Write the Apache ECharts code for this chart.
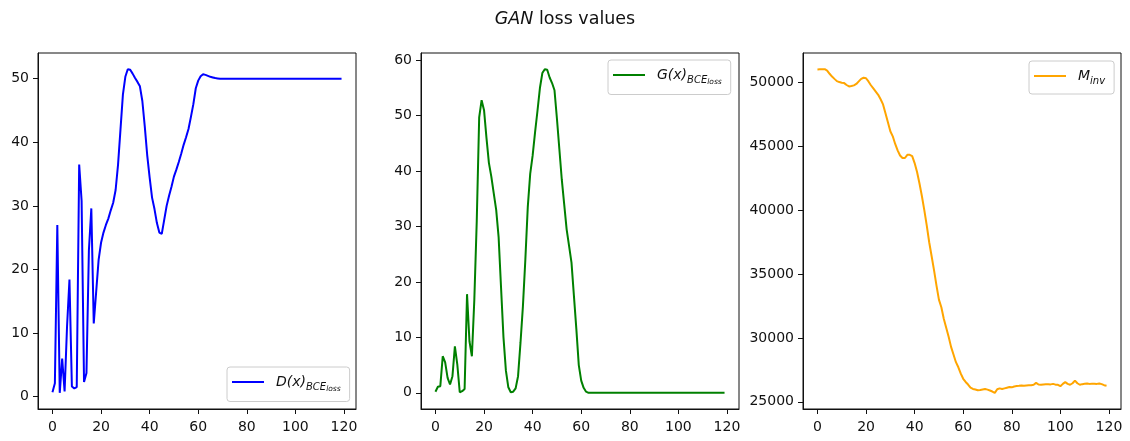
<!DOCTYPE html>
<html><head><meta charset="utf-8">
<script src="https://cdn.jsdelivr.net/npm/echarts@6/dist/echarts.min.js"></script>
<style>html,body{margin:0;padding:0;background:#fff}#c{width:1130px;height:441px}</style>
</head><body><div id="c"></div>
<script>
// ---- data ----
const dLoss = [0.7,2.1,27.0,0.6,6.0,0.8,11.0,18.4,1.6,1.3,1.5,36.5,30.8,2.3,3.7,23.0,29.6,11.5,16.5,21.5,
  24.2,25.8,27.0,28.0,29.3,30.5,32.5,36.5,42.0,47.5,50.3,51.5,51.4,50.8,50.1,49.5,48.8,46.5,42.5,38.0,
  34.5,31.3,29.5,27.3,25.8,25.6,27.8,30.0,31.6,33.0,34.6,35.7,36.9,38.2,39.6,40.8,42.1,44.0,46.0,48.5,
  49.7,50.4,50.7,50.6,50.45,50.3,50.2,50.1,50.05,50.0,50,50,50,50,50,50,50,50,50,50,
  50,50,50,50,50,50,50,50,50,50,50,50,50,50,50,50,50,50,50,50,
  50,50,50,50,50,50,50,50,50,50,50,50,50,50,50,50,50,50,50,50];
const gLoss = [0.2,1.1,1.2,6.6,5.5,2.7,1.5,3.0,8.4,5.1,0.1,0.3,0.7,17.8,9.3,6.6,16.8,31.0,49.7,52.8,
  51.0,46.0,41.5,39.0,36.0,33.0,28.1,19.0,10.0,4.0,1.0,0.1,0.2,0.8,3.0,9.0,15.6,24.0,33.5,39.5,
  42.8,47.0,50.9,55.0,57.7,58.4,58.3,56.9,55.9,54.6,49.5,44.0,38.5,34.0,29.5,26.5,23.5,17.5,11.5,5.0,
  2.2,0.9,0.2,0,0,0,0,0,0,0,0,0,0,0,0,0,0,0,0,0,
  0,0,0,0,0,0,0,0,0,0,0,0,0,0,0,0,0,0,0,0,
  0,0,0,0,0,0,0,0,0,0,0,0,0,0,0,0,0,0,0,0];
const mInv = [51040,51050,51050,51060,50950,50700,50480,50300,50125,50050,50000,49970,49820,49710,49740,49790,49900,50100,50300,50390,
  50350,50100,49800,49550,49300,49050,48700,48300,47600,46900,46200,45800,45200,44700,44300,44100,44100,44350,44350,44250,
  43700,43000,42100,41100,40000,38800,37500,36400,35300,34100,33000,32400,31500,30800,30100,29300,28700,28100,27700,27200,
  26800,26550,26350,26100,26000,25960,25900,25920,25960,26000,25950,25880,25800,25700,25980,26050,26000,26050,26100,26150,
  26130,26200,26230,26250,26280,26260,26280,26300,26290,26330,26480,26350,26330,26360,26370,26380,26360,26400,26340,26330,
  26220,26400,26540,26400,26330,26450,26660,26450,26330,26380,26410,26430,26400,26420,26410,26400,26430,26380,26300,26260];
const xTicks = [0,20,40,60,80,100,120];
const dTicks = [0,10,20,30,40,50];
const gTicks = [0,10,20,30,40,50,60];
const mTicks = [25000,30000,35000,40000,45000,50000];
const titleParts = ['GAN', ' loss values'];

// ---- helpers ----
function pts(arr){ return arr.map((v,i)=>[i,v]); }
function range(arr){ const lo=Math.min(...arr), hi=Math.max(...arr), m=(hi-lo)*0.05; return [lo-m, hi+m]; }
const FONT = 'DejaVu Sans';
const INK = '#111';
const xr = [-0.05*(dLoss.length-1), (dLoss.length-1)*1.05];
const fmt = v => String(v);
const LBL = {formatter:fmt, fontSize:14, color:INK, fontFamily:FONT};

function xAxis(g){
  return {type:'value', gridIndex:g, min:xr[0], max:xr[1],
    axisLine:{show:true, onZero:false, lineStyle:{color:INK, width:1}},
    axisTick:{show:true, inside:false, customValues:xTicks, length:5, lineStyle:{color:INK, width:1}},
    axisLabel:Object.assign({customValues:xTicks, margin:11}, LBL),
    splitLine:{show:false}};
}
function yAxis(g, arr, ticks){
  const r = range(arr);
  return {type:'value', gridIndex:g, min:r[0], max:r[1],
    axisLine:{show:true, onZero:false, lineStyle:{color:INK, width:1}},
    axisTick:{show:true, inside:false, customValues:ticks, length:5, lineStyle:{color:INK, width:1}},
    axisLabel:Object.assign({customValues:ticks, margin:9}, LBL),
    splitLine:{show:false}};
}
const gridBase = {top:53, height:356, width:318, show:true, borderColor:INK, borderWidth:1, containLabel:false};
const rich = {
  m:{fontFamily:FONT, fontStyle:'italic', fontSize:14, color:INK, padding:[0,0,0,7]},
  s:{fontFamily:FONT, fontStyle:'italic', fontSize:10, color:INK, padding:[10,0,0,0]},
  ss:{fontFamily:FONT, fontStyle:'italic', fontSize:7.5, color:INK, padding:[15,0,0,0]}
};
function legend(name, pos, text){
  return Object.assign({data:[{name:name, icon:'rect'}], orient:'vertical', itemWidth:32, itemHeight:2,
    padding:[8,9,8,5], backgroundColor:'rgba(255,255,255,0.8)', borderColor:'#cccccc', borderWidth:1, borderRadius:3,
    textStyle:{rich:rich}, formatter:()=>text, selectedMode:false}, pos);
}
function line(name, g, arr, color){
  return {name:name, type:'line', xAxisIndex:g, yAxisIndex:g, data:pts(arr), showSymbol:false, symbol:'none',
    lineStyle:{color:color, width:2}, itemStyle:{color:color}, smooth:false};
}

const chart = echarts.init(document.getElementById('c'), null, {renderer:'canvas'});
chart.setOption({
  animation:false,
  backgroundColor:'#fff',
  title:{text:'{i|'+titleParts[0]+'}'+titleParts[1], left:'center', top:5,
    textStyle:{fontFamily:FONT, fontSize:17.5, fontWeight:'normal', color:INK,
      rich:{i:{fontFamily:FONT, fontSize:17.5, fontStyle:'italic', color:INK}}}},
  grid:[Object.assign({left:38}, gridBase), Object.assign({left:421}, gridBase), Object.assign({left:803}, gridBase)],
  xAxis:[xAxis(0), xAxis(1), xAxis(2)],
  yAxis:[yAxis(0,dLoss,dTicks), yAxis(1,gLoss,gTicks), yAxis(2,mInv,mTicks)],
  legend:[
    legend('D', {left:227, top:367}, '{m|D(x)}{s|BCE}{ss|loss}'),
    legend('G', {left:608, top:60}, '{m|G(x)}{s|BCE}{ss|loss}'),
    legend('M', {left:1029, top:61}, '{m|M}{s|inv}')
  ],
  series:[line('D',0,dLoss,'#0000ff'), line('G',1,gLoss,'#008000'), line('M',2,mInv,'#ffa500')]
});
</script></body></html>
